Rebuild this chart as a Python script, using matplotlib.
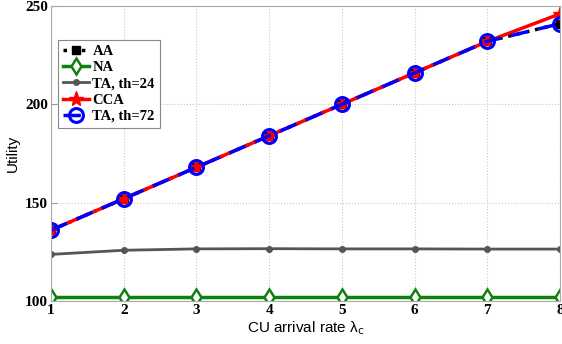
import matplotlib.pyplot as plt
import numpy as np

#----- data -----
x = [1, 2, 3, 4, 5, 6, 7, 8]
aa = [136, 152, 168, 184, 200, 216, 232, 241]
na = [102, 102, 102, 102, 102, 102, 102, 102]
ta24 = [123.7, 125.8, 126.5, 126.6, 126.5, 126.5, 126.4, 126.4]
cca = [136, 152, 168, 184, 200, 216, 232, 246]
ta72 = [136, 152, 168, 184, 200, 216, 232, 241]

yticks = [100, 150, 200, 250]

#----- figure -----
fig = plt.figure(figsize=(5.62, 3.44), dpi=100)
ax = fig.add_axes([51/562, 1 - 301/344, (560-51)/562, (301-6)/344])

ax.plot(x, aa, color='black', ls=':', lw=2.5, marker='s', ms=6, label='AA')
ax.plot(x, na, color='#108010', ls='-', lw=2.5, marker='d', ms=8,
        mfc='white', mec='#108010', mew=1.8, label='NA')
ax.plot(x, ta24, color='#555555', ls='-', lw=2, marker='o', ms=4, label='TA, th=24')
ax.plot(x, cca, color='red', ls='-', lw=2.5, marker='*', ms=11, label='CCA')
ax.plot(x, ta72, color='blue', ls='--', lw=2.5, dashes=(5, 3), marker='o', ms=10,
        mfc='none', mec='blue', mew=2.2, label='TA, th=72')

ax.set_xlim(1, 8)
ax.set_ylim(100, 250)
ax.set_xticks(x)
ax.set_yticks(yticks)
ax.grid(True, color='#c8c8c8', ls=':', lw=0.8)
ax.tick_params(direction='in', length=4, color='#999999', pad=2)
for lab in ax.get_xticklabels() + ax.get_yticklabels():
    lab.set_fontfamily('Liberation Serif')
    lab.set_fontweight('bold')
    lab.set_fontsize(11)
for sp in ax.spines.values():
    sp.set_color('#aaaaaa')
    sp.set_linewidth(0.8)

ax.set_xlabel(r'CU arrival rate λ$_{\mathrm{c}}$', fontsize=11, family='Liberation Sans', labelpad=2)
ax.set_ylabel('Utility', fontsize=11, family='Liberation Sans', labelpad=4)

leg = ax.legend(loc='upper left', bbox_to_anchor=(0.014, 0.885), borderaxespad=0,
                prop={'family': 'Liberation Serif', 'weight': 'bold', 'size': 10.5},
                handlelength=1.8, handletextpad=0.2, labelspacing=0.2,
                borderpad=0.35, fancybox=False, framealpha=1)
leg.get_frame().set_edgecolor('#888888')
leg.get_frame().set_linewidth(0.8)

fig.savefig('out.png', dpi=100)
